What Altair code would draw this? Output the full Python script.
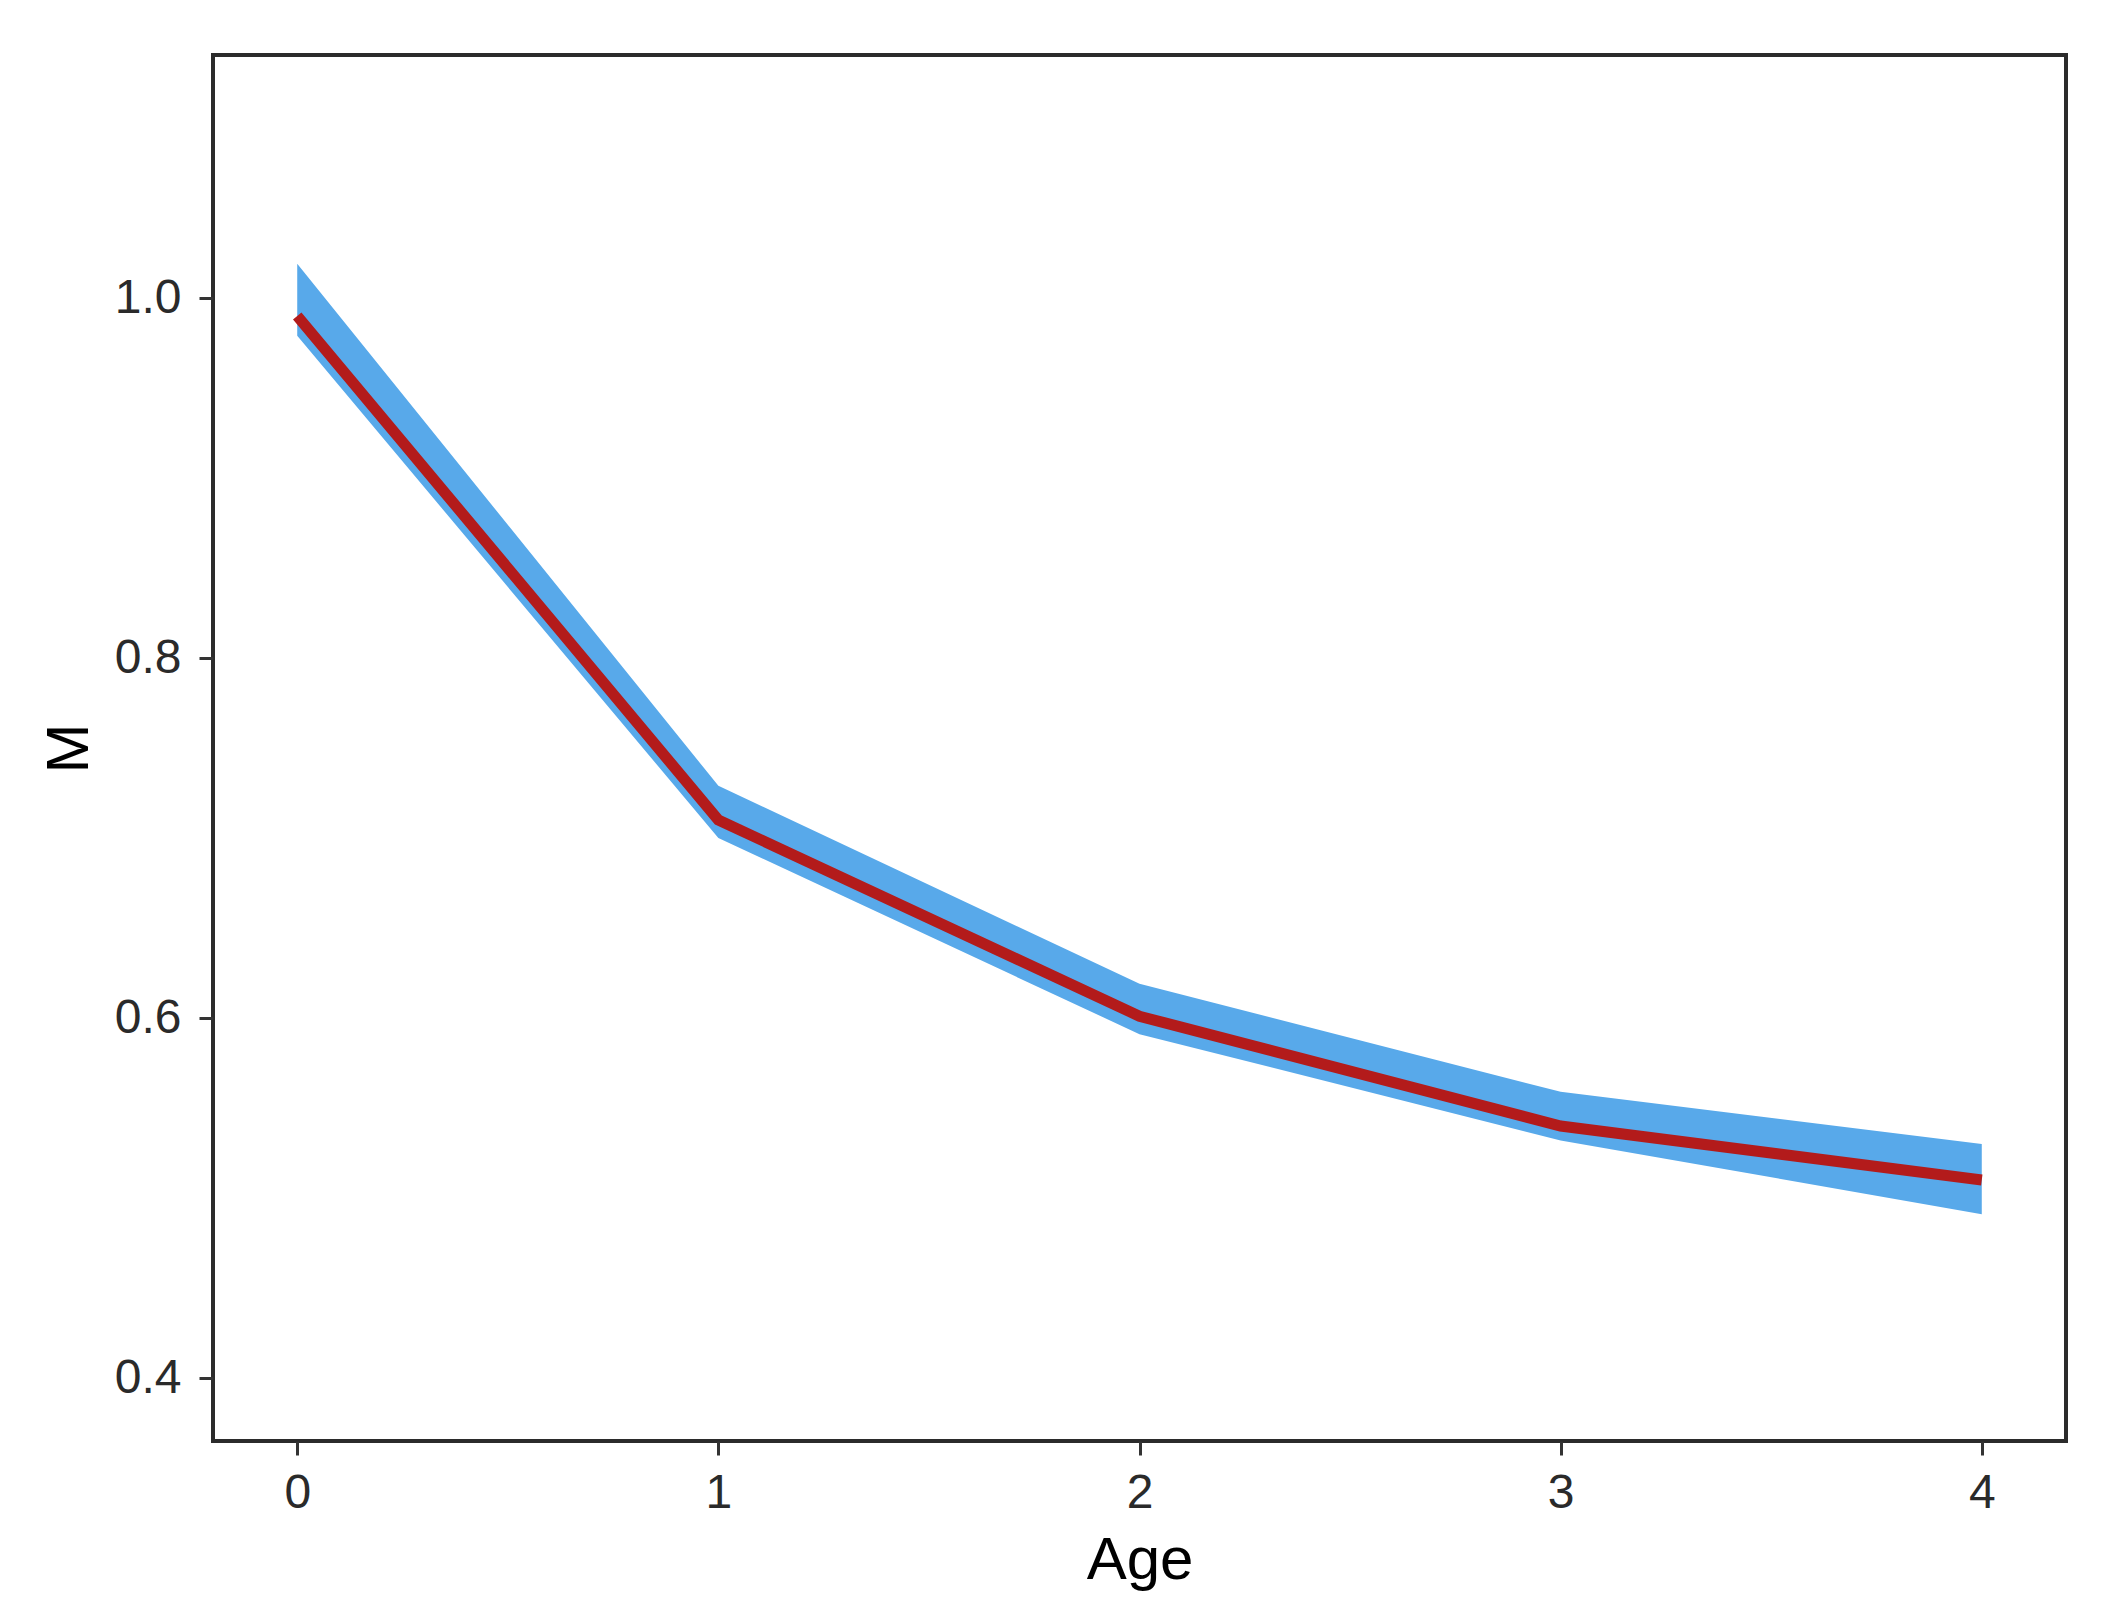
import altair as alt
import pandas as pd

ages = [0, 1, 2, 3, 4]
m_mean = [0.990, 0.710, 0.601, 0.540, 0.510]
m_lower = [0.979, 0.700, 0.591, 0.532, 0.491]
m_upper = [1.019, 0.729, 0.619, 0.559, 0.530]

x_ticks = [0, 1, 2, 3, 4]
y_ticks = [0.4, 0.6, 0.8, 1.0]

df = pd.DataFrame({"Age": ages, "M": m_mean, "lower": m_lower, "upper": m_upper})

W, H = 1853, 1386

x_scale = alt.Scale(domain=[-0.2, 4.2], nice=False, zero=False)
y_scale = alt.Scale(domain=[0.365, 1.135], nice=False, zero=False)

base = alt.Chart(df)

band = base.mark_area(color="#58A9EA", opacity=1).encode(
    x=alt.X("Age:Q", scale=x_scale,
            axis=alt.Axis(values=x_ticks, format="d", title="Age",
                          titleX=W / 2, titleY=137, titleBaseline="alphabetic",
                          titleAlign="center")),
    y=alt.Y("lower:Q", scale=y_scale,
            axis=alt.Axis(values=y_ticks, format=".1f", title="M",
                          titleAngle=270, titleX=-126, titleY=H / 2,
                          titleBaseline="alphabetic", titleAlign="center")),
    y2="upper:Q",
)

line = base.mark_line(color="#B31B1B", strokeWidth=11, strokeCap="butt").encode(
    x=alt.X("Age:Q", scale=x_scale),
    y=alt.Y("M:Q", scale=y_scale),
)

chart = (
    alt.layer(band, line)
    .properties(
        width=W,
        height=H,
        autosize=alt.AutoSizeParams(type="none"),
        padding={"left": 205, "top": 47, "right": 30, "bottom": 160},
        background="white",
    )
    .configure_view(stroke="#2b2b2b", strokeWidth=4)
    .configure_axis(
        grid=False,
        domain=False,
        ticks=True,
        tickSize=14,
        tickWidth=3,
        tickColor="#333333",
        labelFont="Liberation Sans",
        labelFontSize=48,
        labelColor="#2a2a2a",
        labelPadding=14,
        titleFont="Liberation Sans",
        titleFontSize=60,
        titleFontWeight="normal",
        titleColor="#000000",
    )
    .configure_axisY(labelPadding=18)
)

chart.save("out.html", embed_options={"renderer": "svg", "actions": False})
